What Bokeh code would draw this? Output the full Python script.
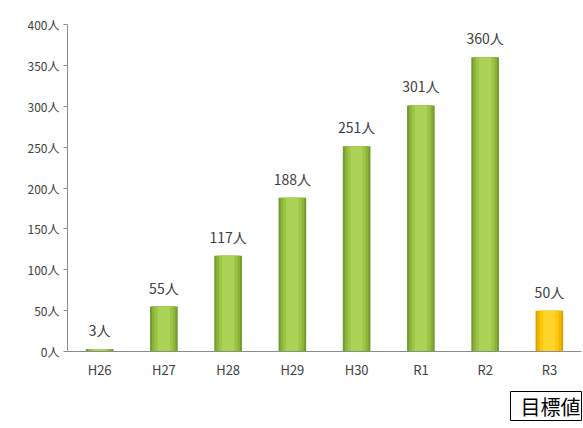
from bokeh.plotting import figure
from bokeh.models import FactorRange, Range1d, Title, ColumnDataSource, FixedTicker
from bokeh.core.properties import value
from bokeh.embed import file_html
from bokeh.resources import INLINE

categories = ["H26", "H27", "H28", "H29", "H30", "R1", "R2", "R3"]
counts = [3, 55, 117, 188, 251, 301, 360, 50]
target_flags = [False, False, False, False, False, False, False, True]
y_ticks = [0, 50, 100, 150, 200, 250, 300, 350, 400]

FONT = "Noto Sans CJK JP"
TXT = "#404040"

p = figure(width=583, height=428, output_backend="svg", toolbar_location=None,
           x_range=FactorRange(*categories, range_padding=0),
           y_range=Range1d(0, 400),
           min_border_left=67, min_border_right=2, min_border_top=24, min_border_bottom=0)
p.outline_line_color = None
p.xgrid.grid_line_color = None
p.ygrid.grid_line_color = None
p.background_fill_color = "white"
p.border_fill_color = "white"

green_layers = ["#739a2c", "#8ab33a", "#9cc446", "#acd256"]
yellow_layers = ["#d9a300", "#f2b800", "#ffc80a", "#ffd42a"]
widths = [0.43, 0.37, 0.29, 0.19]

for i, w in enumerate(widths):
    cols = [yellow_layers[i] if t else green_layers[i] for t in target_flags]
    src = ColumnDataSource(dict(x=categories, top=counts, color=cols))
    p.vbar(x="x", top="top", width=w, source=src, fill_color="color", line_color=None)

# labels above bars
lab = ColumnDataSource(dict(x=categories, y=counts, t=[f"{v}人" for v in counts]))
p.text(x="x", y="y", text="t", source=lab, text_align="center", text_baseline="bottom",
       y_offset=-9, text_font=value(FONT), text_font_size="14px", text_color=TXT)

# axes
p.yaxis.ticker = FixedTicker(ticks=y_ticks)
p.yaxis.major_label_overrides = {v: f"{v}人" for v in y_ticks}
p.yaxis.major_label_text_font = FONT
p.yaxis.major_label_text_font_size = "12px"
p.yaxis.major_label_text_color = TXT
p.yaxis.axis_line_color = "#8c8c8c"
p.yaxis.major_tick_line_color = "#8c8c8c"
p.yaxis.major_tick_out = 4
p.yaxis.major_tick_in = 0
p.yaxis.minor_tick_line_color = None
p.yaxis.major_label_standoff = 4

p.xaxis.major_label_text_font = FONT
p.xaxis.major_label_text_font_size = "13px"
p.xaxis.major_label_text_color = TXT
p.xaxis.axis_line_color = "#8c8c8c"
p.xaxis.major_tick_line_color = None
p.xaxis.minor_tick_line_color = None
p.xaxis.major_label_standoff = 2

box = Title(text="目標値", align="right", text_font=FONT, text_font_size="20px",
            text_font_style="normal", text_color="black",
            background_fill_color="white", border_line_color="black", border_line_width=1,
            padding=dict(left=10, right=1, top=0, bottom=0), standoff=16, offset=0)
p.add_layout(box, "below")

open("out.html", "w").write(file_html(p, INLINE))
